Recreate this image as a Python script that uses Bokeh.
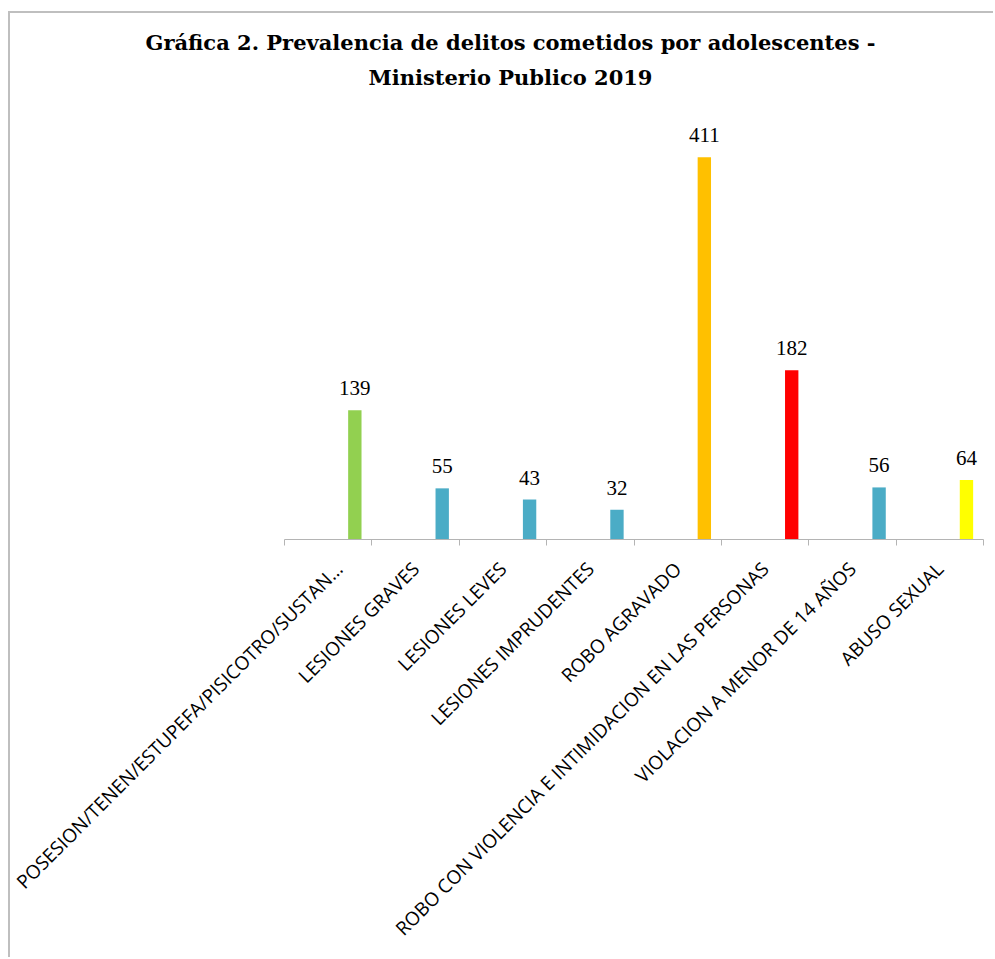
from bokeh.plotting import figure
from bokeh.models import (Range1d, FixedTicker, ColumnDataSource, LabelSet, Label)
from bokeh.embed import file_html
from bokeh.resources import INLINE
import math

# ---- data ----
categories = [
    "POSESION/TENEN/ESTUPEFA/PISICOTRO/SUSTAN...",
    "LESIONES GRAVES",
    "LESIONES LEVES",
    "LESIONES IMPRUDENTES",
    "ROBO AGRAVADO",
    "ROBO CON VIOLENCIA E INTIMIDACION EN LAS PERSONAS",
    "VIOLACION A MENOR DE 14 AÑOS",
    "ABUSO SEXUAL",
]
values = [139, 55, 43, 32, 411, 182, 56, 64]
bar_colors = ["#92d050", "#4bacc6", "#4bacc6", "#4bacc6",
              "#ffc000", "#ff0000", "#4bacc6", "#ffff00"]
title_line1 = "Gráfica 2. Prevalencia de delitos cometidos por adolescentes -"
title_line2 = "Ministerio Publico 2019"

# ---- layout (pixels, canvas-relative) ----
CANVAS_W, CANVAS_H = 985, 946
AXIS_LEFT = 274          # first category boundary
AXIS_RIGHT = 973         # last category boundary
AXIS_Y = 526             # baseline of bars
PX_PER_UNIT = 0.930      # vertical scale
TITLE_CX = 500
TITLE_Y1, TITLE_Y2 = 29, 64

n = len(categories)
W = (AXIS_RIGHT - AXIS_LEFT) / n
x_start = -AXIS_LEFT / W
x_end = n + (CANVAS_W - AXIS_RIGHT) / W
y_end = AXIS_Y / PX_PER_UNIT

BAR_OFFSET = 0.305
BAR_WIDTH = 0.153
centers = [i + 0.5 for i in range(n)]
boundaries = [float(i) for i in range(n + 1)]
bar_x = [c + BAR_OFFSET for c in centers]

src = ColumnDataSource(dict(x=bar_x, top=values, color=bar_colors,
                            label=[str(v) for v in values]))

p = figure(width=CANVAS_W, height=CANVAS_H, output_backend="svg",
           toolbar_location=None,
           x_range=Range1d(x_start, x_end), y_range=Range1d(0, y_end),
           min_border_left=0, min_border_right=0, min_border_top=0,
           min_border_bottom=CANVAS_H - AXIS_Y)
p.styles = {"margin-left": "8px", "margin-top": "11px",
            "border-top": "2px solid #bfbfbf",
            "border-left": "2px solid #bfbfbf"}

p.vbar(x="x", top="top", bottom=0, width=BAR_WIDTH, color="color", source=src,
       line_color=None)

labels = LabelSet(x="x", y="top", text="label", source=src, y_offset=15,
                  text_align="center", text_baseline="alphabetic",
                  text_font="Liberation Serif", text_font_size="21px",
                  text_color="#000000")
p.add_layout(labels)

p.yaxis.visible = False
p.grid.visible = False
p.outline_line_color = None
p.background_fill_color = "white"
p.border_fill_color = "white"

ax = p.xaxis[0]
ax.bounds = (0, n)
ax.ticker = FixedTicker(ticks=centers, minor_ticks=boundaries)
ax.major_label_overrides = {c: cat for c, cat in zip(centers, categories)}
ax.major_tick_out = 0
ax.major_tick_in = 0
ax.minor_tick_out = 6
ax.minor_tick_in = 0
ax.minor_tick_line_color = "#b4b4b4"
ax.axis_line_color = "#b4b4b4"
ax.axis_line_width = 1
ax.major_label_orientation = math.pi / 4
ax.major_label_standoff = 20
ax.major_label_text_font = "Open Sans"
ax.major_label_text_font_size = "19px"
ax.major_label_text_color = "#000000"

tx = (TITLE_CX - AXIS_LEFT) / W
for txt, ty in [(title_line1, TITLE_Y1), (title_line2, TITLE_Y2)]:
    p.add_layout(Label(x=tx, y=(AXIS_Y - ty) / PX_PER_UNIT, text=txt,
                       text_align="center", text_baseline="alphabetic",
                       text_font="DejaVu Serif", text_font_style="bold",
                       text_font_size="21px", text_color="#000000"))

open("out.html", "w").write(file_html(p, INLINE))
